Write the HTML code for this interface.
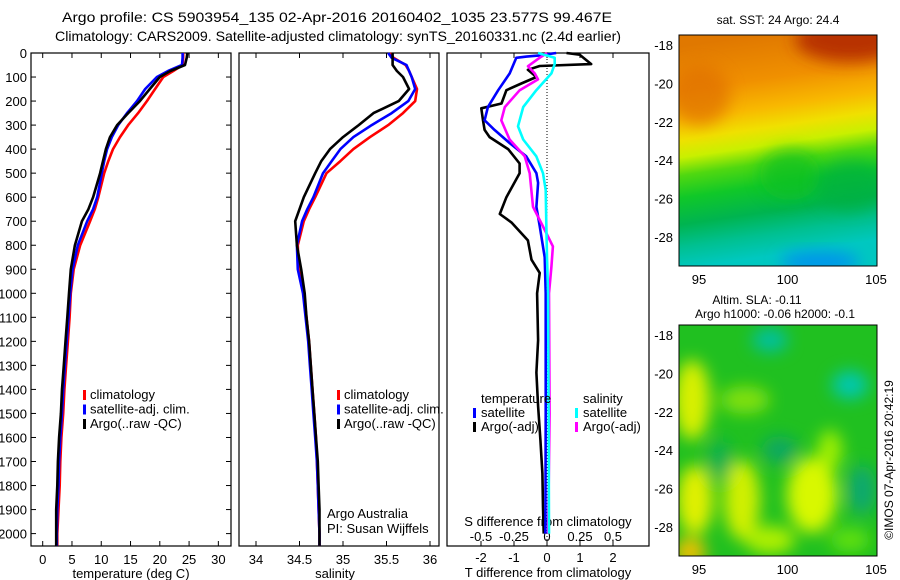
<!DOCTYPE html>
<html><head><meta charset="utf-8"><style>
body{margin:0;background:#fff}
svg{display:block;font-family:"Liberation Sans",sans-serif}
</style></head><body>
<svg id="c" width="900" height="580" viewBox="0 0 900 580">
<defs>
<linearGradient id="sstg" x1="0" y1="0.05" x2="0.12" y2="1">
<stop offset="0" stop-color="#e07800"/><stop offset="0.2" stop-color="#f09000"/>
<stop offset="0.33" stop-color="#f8b800"/><stop offset="0.42" stop-color="#f0e000"/>
<stop offset="0.5" stop-color="#c8f000"/><stop offset="0.58" stop-color="#50d810"/>
<stop offset="0.68" stop-color="#10c828"/><stop offset="0.8" stop-color="#00b450"/>
<stop offset="0.9" stop-color="#00c090"/><stop offset="1" stop-color="#00c8c0"/>
</linearGradient>
<filter id="bl" x="-50%" y="-50%" width="200%" height="200%"><feGaussianBlur stdDeviation="8"/></filter>
<clipPath id="m1"><rect x="679" y="35" width="198" height="231"/></clipPath>
<clipPath id="m2"><rect x="679" y="325" width="198" height="231"/></clipPath>
</defs>
<text x="62" y="22" font-size="14" textLength="550" lengthAdjust="spacingAndGlyphs">Argo profile: CS 5903954_135 02-Apr-2016 20160402_1035 23.577S 99.467E</text>
<text x="55" y="41" font-size="14" textLength="566" lengthAdjust="spacingAndGlyphs">Climatology: CARS2009. Satellite-adjusted climatology: synTS_20160331.nc (2.4d earlier)</text>
<g id="g"></g>
<g>
<text x="778" y="24" font-size="12" text-anchor="middle">sat. SST: 24 Argo: 24.4</text>
<g clip-path="url(#m1)">
<rect x="679" y="35" width="198" height="231" fill="url(#sstg)"/>
<ellipse cx="850" cy="40" rx="55" ry="22" fill="#b83000" filter="url(#bl)"/>
<ellipse cx="700" cy="95" rx="30" ry="30" fill="#e07000" filter="url(#bl)" opacity="0.7"/>
<ellipse cx="790" cy="175" rx="30" ry="25" fill="#10c020" filter="url(#bl)" opacity="0.7"/>
<ellipse cx="850" cy="185" rx="35" ry="25" fill="#00b040" filter="url(#bl)" opacity="0.7"/>
<ellipse cx="820" cy="262" rx="40" ry="10" fill="#0090f0" filter="url(#bl)"/>
</g>
<rect x="679" y="35" width="198" height="231" fill="none" stroke="#000"/>
</g>
<g>
<text x="757" y="304" font-size="12" text-anchor="middle">Altim. SLA: -0.11</text>
<text x="775" y="318" font-size="12" text-anchor="middle">Argo h1000: -0.06 h2000: -0.1</text>
<g clip-path="url(#m2)">
<rect x="679" y="325" width="198" height="231" fill="#20c020"/>
<g filter="url(#bl)">
<ellipse cx="692" cy="400" rx="18" ry="40" fill="#d8f000"/>
<ellipse cx="695" cy="500" rx="18" ry="35" fill="#e0f000"/>
<ellipse cx="690" cy="552" rx="16" ry="14" fill="#f0c000"/>
<ellipse cx="742" cy="500" rx="18" ry="40" fill="#d0f000"/>
<ellipse cx="812" cy="495" rx="25" ry="38" fill="#d8f800"/>
<ellipse cx="830" cy="450" rx="12" ry="20" fill="#a0f000"/>
<ellipse cx="745" cy="400" rx="25" ry="14" fill="#80e010"/>
<ellipse cx="770" cy="540" rx="25" ry="14" fill="#b0f000"/>
<ellipse cx="770" cy="340" rx="18" ry="12" fill="#00c0a0"/>
<ellipse cx="850" cy="385" rx="18" ry="14" fill="#00c8b0"/>
<ellipse cx="780" cy="450" rx="18" ry="14" fill="#10a860"/>
<ellipse cx="862" cy="490" rx="14" ry="25" fill="#10a870"/>
<ellipse cx="720" cy="460" rx="12" ry="20" fill="#10b050"/>
<ellipse cx="850" cy="540" rx="20" ry="12" fill="#60e010"/>
</g>
</g>
<rect x="679" y="325" width="198" height="231" fill="none" stroke="#000"/>
</g>
<text transform="translate(893,460) rotate(-90)" font-size="12" text-anchor="middle">©IMOS 07-Apr-2016 20:42:19</text>
</svg>
<script>
// ---- data ----
var depthTicks=[0,100,200,300,400,500,600,700,800,900,1000,1100,1200,1300,1400,1500,1600,1700,1800,1900,2000];
var tempTicks=[0,5,10,15,20,25,30];
var salTicks=[34,34.5,35,35.5,36];
var salTickLabels=["34","34.5","35","35.5","36"];
var tdiffTicks=[-2,-1,0,1,2];
var sdiffTicks=[-0.5,-0.25,0,0.25,0.5];
var sdiffTickLabels=["-0.5","-0.25","0","0.25","0.5"];
var profDepth=[0,20,50,75,100,150,200,250,300,350,400,450,500,600,650,700,800,900,1000,1100,1200,1300,1400,1500,1600,1700,1800,1900,2000,2050];
var tempClim=[24.0,24.0,23.9,22.3,20.6,19.2,17.8,16.3,14.6,13.2,12.0,11.2,10.5,9.5,8.9,8.1,6.4,5.3,4.8,4.6,4.3,4.0,3.7,3.5,3.2,3.0,2.9,2.7,2.5,2.5];
var tempSat=[23.9,23.9,23.8,21.4,19.5,17.5,16.1,14.4,12.9,11.8,11.0,10.5,10.1,9.3,8.6,7.6,6.0,5.1,4.7,4.4,4.1,3.8,3.5,3.3,3.0,2.8,2.7,2.5,2.4,2.4];
var tempArgo=[24.7,24.6,24.3,21.8,20.0,18.3,16.6,14.6,12.7,11.5,10.8,10.3,9.8,8.6,7.8,6.7,5.5,4.8,4.5,4.2,3.9,3.6,3.3,3.1,2.8,2.6,2.5,2.3,2.3,2.3];
var salClim=[35.54,35.58,35.72,35.76,35.79,35.85,35.83,35.69,35.52,35.31,35.12,34.97,34.81,34.68,34.61,34.55,34.48,34.49,34.55,34.58,34.61,34.63,34.65,34.67,34.69,34.70,34.71,34.72,34.73,34.73];
var salSat=[35.52,35.56,35.73,35.76,35.79,35.83,35.75,35.56,35.33,35.12,34.97,34.87,34.77,34.66,34.59,34.53,34.47,34.48,34.54,34.57,34.60,34.62,34.64,34.66,34.68,34.70,34.71,34.72,34.73,34.73];
var salArgo=[35.57,35.57,35.57,35.62,35.69,35.76,35.64,35.35,35.18,35.0,34.85,34.75,34.68,34.55,34.50,34.45,34.47,34.52,34.56,34.58,34.61,34.63,34.65,34.67,34.69,34.71,34.72,34.73,34.73,34.73];
var tsatDepth=[0,10,15,20,85,155,225,280,320,375,430,500,540,640,720,850,1000,1500,2000];
var tsatDiff=[0.28,-0.22,-0.62,-0.93,-1.13,-1.48,-1.79,-1.89,-1.59,-1.13,-0.63,-0.32,-0.27,-0.32,-0.22,-0.07,-0.04,-0.04,-0.05];
var targoDepth=[0,7,46,54,70,100,127,155,210,230,280,320,350,400,460,500,600,670,705,780,860,915,1000,1195,1330,1470,1610,1750,1890,2000];
var targoDiff=[0.59,0.99,1.34,-0.22,-0.58,-0.32,-0.78,-1.23,-1.38,-1.99,-1.94,-1.89,-1.74,-1.18,-0.83,-0.83,-1.23,-1.43,-1.08,-0.58,-0.47,-0.22,-0.30,-0.27,-0.32,-0.27,-0.20,-0.14,-0.12,-0.10];
var ssatDepth=[0,20,46,85,155,225,305,360,430,500,570,710,850,1000,1500,2000];
var ssatDiff=[-0.068,0.058,0.058,0.033,-0.081,-0.18,-0.22,-0.18,-0.081,-0.03,-0.01,-0.005,0,0.008,0.012,0.015];
var sargoDepth=[0,20,55,85,110,155,225,280,360,430,500,640,735,805,890,1000,1500,2000];
var sargoDiff=[0,-0.056,-0.144,-0.093,-0.068,-0.207,-0.32,-0.346,-0.283,-0.169,-0.131,-0.106,-0.018,0.045,0.033,0.015,0.02,0.008];
var lonTicks=[95,100,105];
var latTicks=[-18,-20,-22,-24,-26,-28];

// ---- axes ----
var NS='http://www.w3.org/2000/svg',G=document.getElementById('g');
function el(t,a,p){var e=document.createElementNS(NS,t);for(var k in a)e.setAttribute(k,a[k]);(p||G).appendChild(e);return e;}
var Y0=53,Y1=546;
function yD(d){return 53+d*0.2403;}
function xT(v){return 42.7+v*5.855;}
function xS(v){return 256+(v-34)*87;}
function xTd(v){return 547+v*33;}
function xSd(v){return 547+v*132;}
function lon(v){return 699+(v-95)*17.7;}
function lat(v,top){return top+10+(-18-v)*19.2;}
function txt(x,y,s,anchor,name,size){var t=el('text',{x:x,y:y,'font-size':size||12,'text-anchor':anchor||'start'});t.textContent=s;return t;}
function line(x1,y1,x2,y2,name){var l=el('line',{x1:x1,y1:y1,x2:x2,y2:y2,stroke:'#000','stroke-width':1});}
function poly(xs,ds,fx,col,name){var p=[];for(var i=0;i<xs.length;i++)p.push(fx(xs[i]).toFixed(1)+','+yD(ds[i]).toFixed(1));var e=el('polyline',{points:p.join(' '),fill:'none',stroke:col,'stroke-width':2.6,'stroke-linejoin':'round'});}
function frame(x,y,w,h,name){var r=el('rect',{x:x,y:y,width:w,height:h,fill:'none',stroke:'#000','stroke-width':1.2});}

// panel 1 temperature
frame(31,Y0,200,Y1-Y0,'temperature-panel-frame');
depthTicks.forEach(function(d){var y=yD(d);line(31,y,36,y,'depth-tick');line(226,y,231,y,'depth-tick-right');txt(27,y+5,String(d),'end','depth-tick-label',13);});
tempTicks.forEach(function(v){var x=xT(v);line(x,Y1,x,Y1-5,'temp-tick');line(x,Y0,x,Y0+5,'temp-tick-top');txt(x,564,String(v),'middle','temp-tick-label',13);});
txt(131,578,'temperature (deg C)','middle','temperature-axis-title',13);
poly(tempClim,profDepth,xT,'#f00','temp-climatology-line');
poly(tempSat,profDepth,xT,'#00f','temp-satellite-line');
poly(tempArgo,profDepth,xT,'#000','temp-argo-line');
[['#f00','climatology'],['#00f','satellite-adj. clim.'],['#000','Argo(..raw -QC)']].forEach(function(L,i){var y=398+i*14.5;var r=el('rect',{x:83,y:y-8,width:3,height:10,fill:L[0]});txt(90,y+1,L[1],'start','temp-legend-entry',13);});

// panel 2 salinity
frame(239,Y0,200,Y1-Y0,'salinity-panel-frame');
salTicks.forEach(function(v,i){var x=xS(v);line(x,Y1,x,Y1-5,'sal-tick');line(x,Y0,x,Y0+5,'sal-tick-top');txt(x,564,salTickLabels[i],'middle','sal-tick-label',13);});
txt(335,578,'salinity','middle','salinity-axis-title',13);
poly(salClim,profDepth,xS,'#f00','sal-climatology-line');
poly(salSat,profDepth,xS,'#00f','sal-satellite-line');
poly(salArgo,profDepth,xS,'#000','sal-argo-line');
[['#f00','climatology'],['#00f','satellite-adj. clim.'],['#000','Argo(..raw -QC)']].forEach(function(L,i){var y=398+i*14.5;var r=el('rect',{x:337,y:y-8,width:3,height:10,fill:L[0]});txt(344,y+1,L[1],'start','sal-legend-entry',13);});
txt(327,518,'Argo Australia','start','institution-note',13);
txt(327,533,'PI: Susan Wijffels','start','pi-note',13);

// panel 3 differences
frame(447,Y0,202,Y1-Y0,'difference-panel-frame');
var dl=el('line',{x1:547,y1:Y0,x2:547,y2:Y1,stroke:'#000','stroke-width':1,'stroke-dasharray':'1,2'});


tdiffTicks.forEach(function(v){var x=xTd(v);line(x,Y1,x,Y1-5,'tdiff-tick');line(x,Y0,x,Y0+5,'tdiff-tick-top');txt(x,562,String(v),'middle','tdiff-tick-label',13);});
sdiffTicks.forEach(function(v,i){txt(xSd(v),541,sdiffTickLabels[i],'middle','sdiff-tick-label',13);});
txt(548,526,'S difference from climatology','middle','sdiff-axis-title',13);
txt(548,577,'T difference from climatology','middle','tdiff-axis-title',13);
poly(targoDiff,targoDepth,xTd,'#000','tdiff-argo-line');
poly(tsatDiff,tsatDepth,xTd,'#00f','tdiff-satellite-line');
poly(sargoDiff,sargoDepth,xSd,'#f0f','sdiff-argo-line');
poly(ssatDiff,ssatDepth,xSd,'#0ff','sdiff-satellite-line');
txt(481,403,'temperature','start','tdiff-legend-title',13);
txt(583,403,'salinity','start','sdiff-legend-title',13);
[['#00f',473,481,'satellite',417],['#000',473,481,'Argo(-adj)',431],['#0ff',575,583,'satellite',417],['#f0f',575,583,'Argo(-adj)',431]].forEach(function(L){var r=el('rect',{x:L[1],y:L[4]-9,width:3,height:10,fill:L[0]});txt(L[2],L[4],L[3],'start','diff-legend-entry',13);});

// map ticks
[35,325].forEach(function(top,mi){
  latTicks.forEach(function(v){var y=lat(v,top);line(679,y,683,y,'lat-tick');line(873,y,877,y,'lat-tick-right');txt(673,y+5,String(v),'end','lat-tick-label',13);});
  lonTicks.forEach(function(v){var x=lon(v);line(x,top+231,x,top+227,'lon-tick');line(x,top,x,top+4,'lon-tick-top');txt(x,top+249,String(v),'middle','lon-tick-label',13);});
});
</script>
</body></html>
